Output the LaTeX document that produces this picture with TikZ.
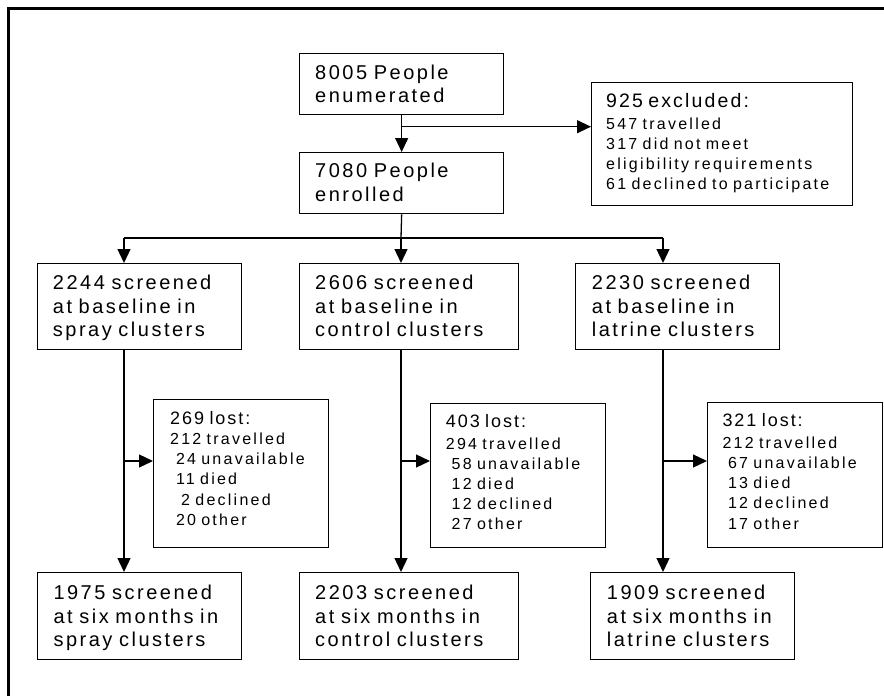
\documentclass[tikz,border=0pt]{standalone}
\usepackage{fontspec}
\setmainfont{Liberation Sans}[LetterSpace=12.5]
\newfontfamily\smallfam{Liberation Sans}[LetterSpace=14]
\newfontfamily\hdrfam{Liberation Sans}[LetterSpace=11]
\usetikzlibrary{arrows.meta}
\newcommand{\mainfnt}{\fontsize{20}{23.7}\selectfont}
\newcommand{\smallfnt}{\smallfam\fontsize{16}{20.2}\selectfont}
\newcommand{\hdrA}{\hdrfam\fontsize{19.5}{20.2}\selectfont}
\newcommand{\hdrB}{\hdrfam\fontsize{18}{20}\selectfont}
\newcommand{\indsp}[1]{\hspace*{#1pt}}
\begin{document}
\begin{tikzpicture}[x=1pt,y=-1pt,
  box/.style={draw=black, line width=1.3pt, anchor=north west, inner sep=0pt},
  ln/.style={line width=1.3pt},
  arr/.style={line width=1.3pt, -{Triangle[length=14pt,width=13pt]}},
  main/.style={anchor=base west, inner sep=0pt, align=left, text width=220pt, font=\mainfnt},
  small/.style={anchor=base west, inner sep=0pt, align=left, text width=250pt, font=\smallfnt}]
\useasboundingbox (0,0) rectangle (884,696);
\fill[white] (0,0) rectangle (884,696);
% outer frame (cut by the image edges)
\draw[line width=2.6pt] (8.7,696) -- (8.7,8.2) -- (884,8.2);

% boxes
\node[box, minimum width=204pt, minimum height=61pt] (A) at (299,53) {};
\node[box, minimum width=204pt, minimum height=61pt] (B) at (299,152) {};
\node[box, minimum width=261pt, minimum height=123pt] (C) at (591,82) {};
\node[box, minimum width=204pt, minimum height=86pt] (S1) at (37,263) {};
\node[box, minimum width=219pt, minimum height=86pt] (S2) at (299,263) {};
\node[box, minimum width=204pt, minimum height=86pt] (S3) at (575,263) {};
\node[box, minimum width=175pt, minimum height=148pt] (L1) at (153,399) {};
\node[box, minimum width=175pt, minimum height=144pt] (L2) at (430,403) {};
\node[box, minimum width=175pt, minimum height=145pt] (L3) at (707,402) {};
\node[box, minimum width=204pt, minimum height=87pt] (F1) at (37,572) {};
\node[box, minimum width=219pt, minimum height=87pt] (F2) at (299,572) {};
\node[box, minimum width=204pt, minimum height=87pt] (F3) at (590,572) {};

% texts
\node[main] (tA) at (315,79) {8005 People\\enumerated};
\node[main] (tB) at (315,177.7) {7080 People\\enrolled};
\node[small] (tC) at (606,107.3) {{\hdrA 925 excluded:}\\[1.5pt]547 travelled\\317 did not meet\\eligibility requirements\\61 declined to participate};
\node[main] (tS1) at (52.7,289.3) {2244 screened\\at baseline in\\spray clusters};
\node[main] (tS2) at (315,289.3) {2606 screened\\at baseline in\\control clusters};
\node[main] (tS3) at (591.7,289.3) {2230 screened\\at baseline in\\latrine clusters};
\node[small] (tL1) at (170,424) {{\hdrB 269 lost:}\\[0.3pt]212 travelled\\\indsp{5.8}24 unavailable\\\indsp{5.8}11 died\\\indsp{11}2 declined\\\indsp{5.8}20 other};
\node[small] (tL2) at (445.7,427) {{\hdrB 403 lost:}\\[1.8pt]294 travelled\\\indsp{5.8}58 unavailable\\\indsp{5.8}12 died\\\indsp{5.8}12 declined\\\indsp{5.8}27 other};
\node[small] (tL3) at (722.3,426.7) {{\hdrB 321 lost:}\\[1.3pt]212 travelled\\\indsp{5.6}67 unavailable\\\indsp{5.6}13 died\\\indsp{5.6}12 declined\\\indsp{5.6}17 other};
\node[main] (tF1) at (53.3,599.3) {1975 screened\\at six months in\\spray clusters};
\node[main] (tF2) at (315,599.3) {2203 screened\\at six months in\\control clusters};
\node[main] (tF3) at (606.7,599.3) {1909 screened\\at six months in\\latrine clusters};

% connectors
\coordinate (j1) at (401,126.7);
\coordinate (jl) at (124,238);
\coordinate (jm) at (401,238);
\coordinate (jr) at (663,238);
\coordinate (k1) at (124,461);
\coordinate (k2) at (401,461);
\coordinate (k3) at (663,461);
\draw[arr] (A.south) -- (B.north);
\draw[arr] (j1) -- (j1 -| C.west);
\draw[ln] (B.south) -- (jm);
\draw[ln] (jl) -- (jr);
\draw[arr] (jl) -- (jl |- S1.north);
\draw[arr] (jm) -- (jm |- S2.north);
\draw[arr] (jr) -- (jr |- S3.north);
\draw[arr] (jl |- S1.south) -- (jl |- F1.north);
\draw[arr] (jm |- S2.south) -- (jm |- F2.north);
\draw[arr] (jr |- S3.south) -- (jr |- F3.north);
\draw[arr] (k1) -- (k1 -| L1.west);
\draw[arr] (k2) -- (k2 -| L2.west);
\draw[arr] (k3) -- (k3 -| L3.west);
\end{tikzpicture}
\end{document}
